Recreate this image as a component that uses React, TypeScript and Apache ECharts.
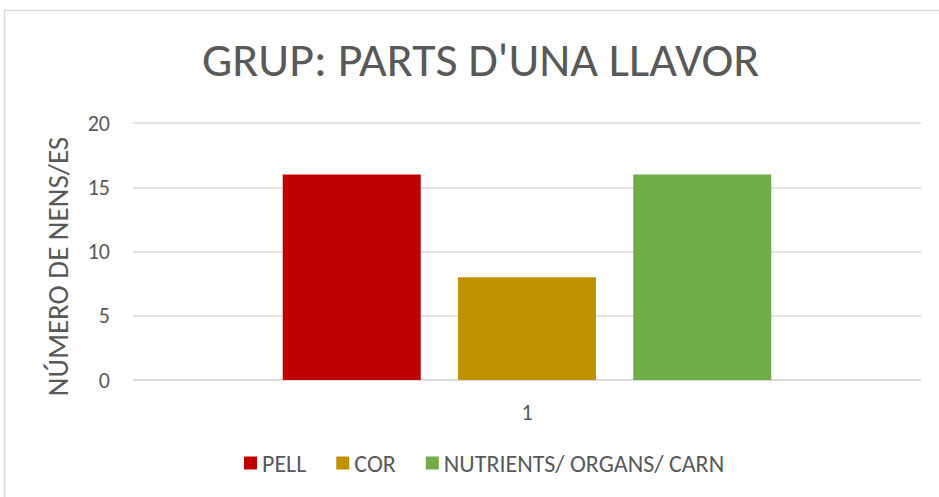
import React, { useEffect, useRef } from "react";
import * as echarts from "echarts";

const categories = ["1"];
const seriesNames = ["PELL", "COR", "NUTRIENTS/ ORGANS/ CARN"];
const pellValues = [16];
const corValues = [8];
const nutrientsValues = [16];
const seriesColors = ["#C00000", "#BF9000", "#70AD47"];
const titleText = "GRUP: PARTS D'UNA LLAVOR";
const yAxisName = "NÚMERO DE NENS/ES";

const FONT = "Carlito, 'Liberation Sans Narrow', 'Open Sans', sans-serif";

export default function App() {
  const ref = useRef<HTMLDivElement>(null);
  useEffect(() => {
    if (!ref.current) return;
    const chart = echarts.init(ref.current, null, { renderer: "svg" });
    const values = [pellValues, corValues, nutrientsValues];
    chart.setOption({
      animation: false,
      backgroundColor: "#ffffff",
      textStyle: { fontFamily: FONT },
      title: {
        text: titleText,
        left: 202,
        top: 35,
        padding: 0,
        textStyle: { fontFamily: FONT, fontSize: 48, fontWeight: "normal", color: "#595959" },
      },
      graphic: [
        {
          type: "rect",
          shape: { x: 4.5, y: 10.5, width: 960, height: 520 },
          style: { fill: "none", stroke: "#D9D9D9", lineWidth: 1.5 },
          silent: true,
        },
      ],
      legend: {
        top: 451,
        left: 244,
        padding: 0,
        itemWidth: 13,
        itemHeight: 13,
        itemGap: 30,
        icon: "rect",
        textStyle: { fontFamily: FONT, fontSize: 24, color: "#595959" },
        data: seriesNames,
      },
      grid: { left: 133, right: 18, top: 123, bottom: 117 },
      xAxis: {
        type: "category",
        data: categories,
        axisLine: { lineStyle: { color: "#D9D9D9", width: 1.5 } },
        axisTick: { show: false },
        axisLabel: { fontFamily: FONT, fontSize: 22, color: "#595959", margin: 21 },
      },
      yAxis: {
        type: "value",
        min: 0,
        max: 20,
        interval: 5,
        name: yAxisName,
        nameLocation: "middle",
        nameGap: 61,
        nameTextStyle: { fontFamily: FONT, fontSize: 29, color: "#595959", padding: [0, 30, 0, 0] },
        axisLine: { show: false },
        axisTick: { show: false },
        axisLabel: { fontFamily: FONT, fontSize: 22, color: "#595959", margin: 23 },
        splitLine: { lineStyle: { color: "#D9D9D9", width: 1.5 } },
      },
      series: seriesNames.map((name, i) => ({
        name,
        type: "bar",
        data: values[i],
        barWidth: 138,
        barGap: "27%",
        itemStyle: { color: seriesColors[i] },
      })),
    });
    return () => chart.dispose();
  }, []);
  return (
    <div
      ref={ref}
      style={{ position: "absolute", left: 0, top: 0, width: 939, height: 497 }}
    />
  );
}
